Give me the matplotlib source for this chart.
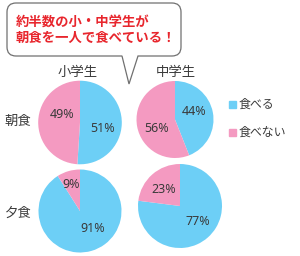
import matplotlib
matplotlib.use("Agg")
import matplotlib.pyplot as plt
from matplotlib.path import Path
from matplotlib.patches import PathPatch

plt.rcParams['font.family'] = ['Noto Sans CJK JP', 'DejaVu Sans']

# data
groups = ["小学生", "中学生"]
meals = ["朝食", "夕食"]
series = ["食べる", "食べない"]
eat = [[51, 44], [91, 77]]        # [meal][group]
not_eat = [[49, 56], [9, 23]]
title_lines = ["約半数の小・中学生が", "朝食を一人で食べている！"]

colors = ["#6dcff6", "#f49ac1"]
txt = "#3a3a3a"

W, H = 300, 256
fig = plt.figure(figsize=(W / 100, H / 100), dpi=100)
fig.patch.set_facecolor("white")

# pie geometry (pixel centers / radii) -- layout only
centers = [[(80, 122.5), (175, 119.5)], [(80, 211), (180, 206)]]
radii = [[41.8, 38.5], [41.5, 42]]
# label offsets as fraction of radius: [(blue), (pink)]
lab_off = [[[(0.53, -0.15), (-0.42, 0.20)], [(0.49, 0.22), (-0.47, -0.24)]],
           [[(0.31, -0.43), (-0.22, 0.65)], [(0.43, -0.38), (-0.40, 0.40)]]]

for m in range(2):
    for g in range(2):
        cx, cy = centers[m][g]
        r = radii[m][g]
        ax = fig.add_axes([(cx - r) / W, (H - cy - r) / H, 2 * r / W, 2 * r / H])
        vals = [eat[m][g], not_eat[m][g]]
        ax.pie(vals, colors=colors, startangle=90, counterclock=False,
               radius=1, wedgeprops=dict(linewidth=0))
        ax.set_xlim(-1, 1)
        ax.set_ylim(-1, 1)
        ax.set_aspect("equal")
        ax.axis("off")
        for i, v in enumerate(vals):
            dx, dy = lab_off[m][g][i]
            ax.text(dx, dy, f"{v}%", ha="center", va="center", fontsize=9,
                    color=txt, family=["Noto Sans", "DejaVu Sans"])

# overlay for annotations
ov = fig.add_axes([0, 0, 1, 1], zorder=5)
ov.set_xlim(0, W)
ov.set_ylim(H, 0)
ov.axis("off")
ov.patch.set_alpha(0)

# speech bubble
x0, x1, y0, y1, rr = 7, 181, 3, 56, 9
tl, tt, tr = 122, (129, 84), 138
verts = [
    (x0 + rr, y0), (x1 - rr, y0), (x1, y0), (x1, y0 + rr),
    (x1, y1 - rr), (x1, y1), (x1 - rr, y1),
    (tr, y1), tt, (tl, y1),
    (x0 + rr, y1), (x0, y1), (x0, y1 - rr),
    (x0, y0 + rr), (x0, y0), (x0 + rr, y0), (x0 + rr, y0)
]
codes = [Path.MOVETO, Path.LINETO, Path.CURVE3, Path.CURVE3,
         Path.LINETO, Path.CURVE3, Path.CURVE3,
         Path.LINETO, Path.LINETO, Path.LINETO,
         Path.LINETO, Path.CURVE3, Path.CURVE3,
         Path.LINETO, Path.CURVE3, Path.CURVE3, Path.CLOSEPOLY]
ov.add_patch(PathPatch(Path(verts, codes), facecolor="white",
                       edgecolor="#707070", linewidth=0.9))
ov.text(16, 22, title_lines[0], ha="left", va="center", fontsize=9.6,
        fontweight="bold", color="#e8262d")
ov.text(16, 37.5, title_lines[1], ha="left", va="center", fontsize=9.6,
        fontweight="bold", color="#e8262d")

# column / row headers
col_x = [78, 176]
for g in range(2):
    ov.text(col_x[g], 72, groups[g], ha="center", va="center", fontsize=9.6, color=txt)
row_y = [121, 213]
for m in range(2):
    ov.text(18, row_y[m], meals[m], ha="center", va="center", fontsize=9.6, color=txt)

# legend
leg_y = [104, 132]
for i in range(2):
    ov.add_patch(plt.Rectangle((229, leg_y[i] - 3.5), 7, 7, color=colors[i]))
    ov.text(239, leg_y[i], series[i], ha="left", va="center", fontsize=8.6, color=txt)

fig.savefig("out.png", dpi=100, facecolor="white")
